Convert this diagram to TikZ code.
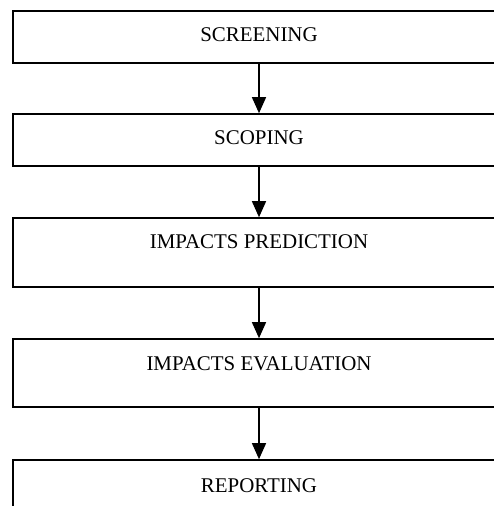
\documentclass[tikz,border=0pt]{standalone}
\usepackage{fontspec}
\setmainfont{Liberation Serif}
\usetikzlibrary{arrows.meta,calc}
\begin{document}
\begin{tikzpicture}[x=1bp,y=1bp,
  stagebox/.style={draw=black, line width=1.6bp, rectangle, minimum width=492bp, inner sep=0pt, fill=white},
  stagetext/.style={anchor=base, inner sep=0pt, font=\fontsize{21}{25}\selectfont},
  flow/.style={draw=black, line width=1.4bp, -{Triangle[width=14bp,length=16bp]}}]
  \useasboundingbox (0,0) rectangle (494,-506);
  \clip (0,0) rectangle (494,-506);
  \fill[white] (0,0) rectangle (494,-506);
  % stage boxes (right side runs past the page edge)
  \node[stagebox, minimum height=52bp] (b1) at (259,-37) {};
  \node[stagebox, minimum height=52bp] (b2) at (259,-140) {};
  \node[stagebox, minimum height=69bp] (b3) at (259,-252.5) {};
  \node[stagebox, minimum height=68bp] (b4) at (259,-373) {};
  \node[stagebox, minimum height=80bp] (b5) at (259,-500) {};
  % stage titles, set near the top of each box
  \node[stagetext] (t1) at ($(b1.north)+(0,-31.5)$) {SCREENING};
  \node[stagetext] (t2) at ($(b2.north)+(0,-31.5)$) {SCOPING};
  \node[stagetext] (t3) at ($(b3.north)+(0,-31)$) {IMPACTS PREDICTION};
  \node[stagetext] (t4) at ($(b4.north)+(0,-32)$) {IMPACTS EVALUATION};
  \node[stagetext] (t5) at ($(b5.north)+(0,-33)$) {REPORTING};
  % connectors
  \draw[flow] (b1.south) -- (b2.north);
  \draw[flow] (b2.south) -- (b3.north);
  \draw[flow] (b3.south) -- (b4.north);
  \draw[flow] (b4.south) -- (b5.north);
\end{tikzpicture}
\end{document}
